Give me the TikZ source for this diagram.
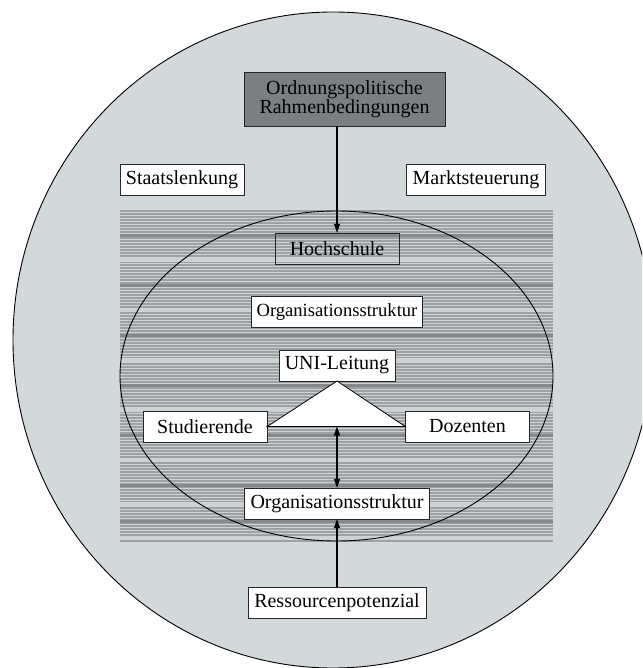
\documentclass[tikz,border=0pt]{standalone}
\usepackage{fontspec}
\setmainfont{Liberation Serif}
\usepackage{xcolor}
\usepackage{tikz}
\usetikzlibrary{shapes.geometric, arrows.meta, positioning}

\definecolor{umfeld}{HTML}{D3D8DB}
\definecolor{rahmen}{HTML}{7B7F82}
\definecolor{streifen}{HTML}{9DA1A4}
\definecolor{hell}{HTML}{CDD2D5}
\definecolor{dunkel}{HTML}{85898C}

\begin{document}
\begin{tikzpicture}[
    x=1pt, y=-1pt,
    box/.style={rectangle, draw=black!85, fill=white, minimum width=124pt, minimum height=31pt, inner sep=6pt, align=center, font=\fontsize{20}{19.5}\selectfont},
    arrow/.style={-{Triangle[length=9pt,width=6pt]}, line width=1.1pt},
    dblarrow/.style={{Triangle[length=9pt,width=6pt]}-{Triangle[length=9pt,width=6pt]}, line width=1.1pt}
]

\clip (0,0) rectangle (642,668);
\draw[fill=umfeld, line width=0.9pt] (333,340) ellipse [x radius=320, y radius=328];

\fill[streifen] (120,210) rectangle (553,542);
\foreach \y in {212,215,...,540}
    \draw[hell, line width=1pt] (120,\y) -- (553,\y);
\foreach \y in {234,284,...,484,520}
    \fill[dunkel] (120,\y) rectangle (553,\y+3);
\foreach \y in {258,308,...,458,502,536}
    \fill[hell] (120,\y) rectangle (553,\y+4);
\draw[line width=0.9pt] (336.5,376) ellipse [x radius=216.5, y radius=165];

\node[box, fill=rahmen, minimum width=201pt, minimum height=54pt] (ordnung) at (344.5,99) {Ordnungspolitische\\Rahmenbedingungen};
\node[box] (staat) at (182,179.5) {Staatslenkung};
\node[box] (markt) at (476,179.5) {Marktsteuerung};
\node[box, fill=none] (hochschule) at (337,248.5) {Hochschule};
\node[box, inner sep=5pt, font=\fontsize{18.6}{19.5}\selectfont, below=32pt of hochschule] (orgoben) {Organisationsstruktur};
\node[box, minimum width=0pt, below=22pt of orgoben] (uni) {UNI-Leitung};
\node[box] (studierende) at (205,426.5) {Studierende};
\node[box] (dozenten) at (467.5,426.5) {Dozenten};
\node[box] (orgunten) at (337,503.5) {Organisationsstruktur};
\node[box] (ressourcen) at (337,603) {Ressourcenpotenzial};

\draw[fill=white, line width=0.8pt] (uni.south) -- (studierende.east) -- (dozenten.west) -- cycle;
\coordinate (basis) at (studierende.east -| uni.south);

\draw[arrow] (hochschule.north |- ordnung.south) -- (hochschule.north);
\draw[dblarrow] (basis) -- (orgunten);
\draw[arrow] (ressourcen) -- (orgunten);

\end{tikzpicture}
\end{document}
